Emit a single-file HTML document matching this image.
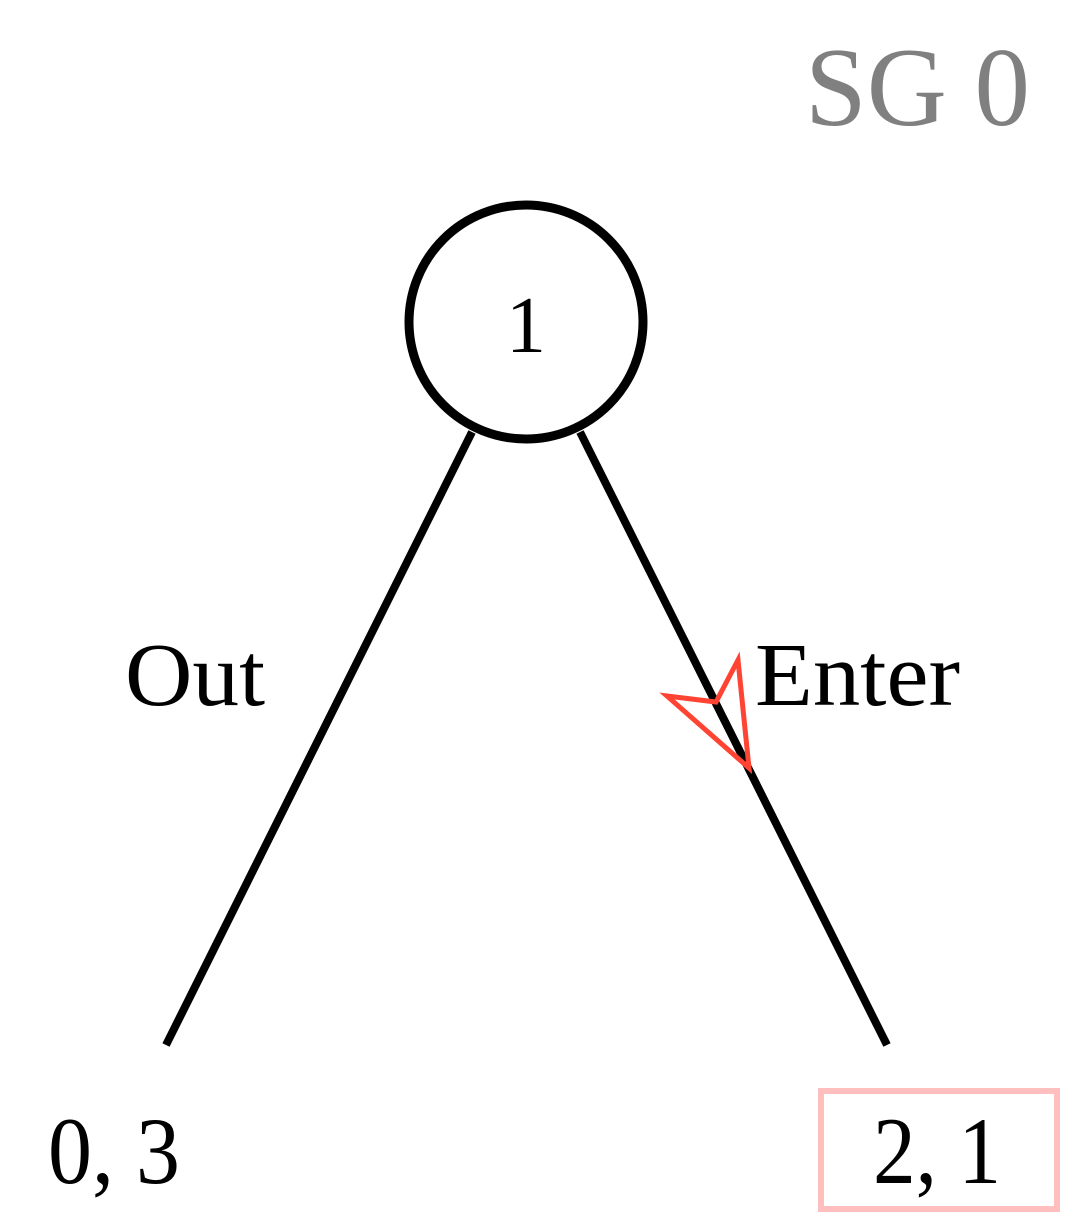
<!DOCTYPE html>
<html><head><meta charset="utf-8"><style>
html,body{margin:0;padding:0;background:#fff;}
svg{display:block;}
text{font-family:"Liberation Serif",serif;}
</style></head><body>
<svg width="1081" height="1232" viewBox="0 0 1081 1232">
  <text x="805" y="125" font-size="112" fill="#808080" textLength="225" lengthAdjust="spacingAndGlyphs">SG 0</text>
  <circle cx="526" cy="322" r="117" fill="none" stroke="#000" stroke-width="9"/>
  <text x="526" y="352" font-size="80" text-anchor="middle">1</text>
  <line x1="472" y1="432" x2="166" y2="1045" stroke="#000" stroke-width="8"/>
  <line x1="580" y1="432" x2="887" y2="1045" stroke="#000" stroke-width="8"/>
  <text x="125" y="705" font-size="90" textLength="140" lengthAdjust="spacingAndGlyphs">Out</text>
  <text x="755" y="705" font-size="90" textLength="205" lengthAdjust="spacingAndGlyphs">Enter</text>
  <polygon points="667,696 716,702 738,660 749,768" fill="none" stroke="#ff4433" stroke-width="5" stroke-linejoin="miter"/>
  <text x="48" y="1183" font-size="95" textLength="132" lengthAdjust="spacingAndGlyphs">0, 3</text>
  <rect x="821" y="1091" width="236" height="118" fill="none" stroke="#ffbfbf" stroke-width="6"/>
  <text x="873" y="1183" font-size="95" textLength="128" lengthAdjust="spacingAndGlyphs">2, 1</text>
</svg>
</body></html>
